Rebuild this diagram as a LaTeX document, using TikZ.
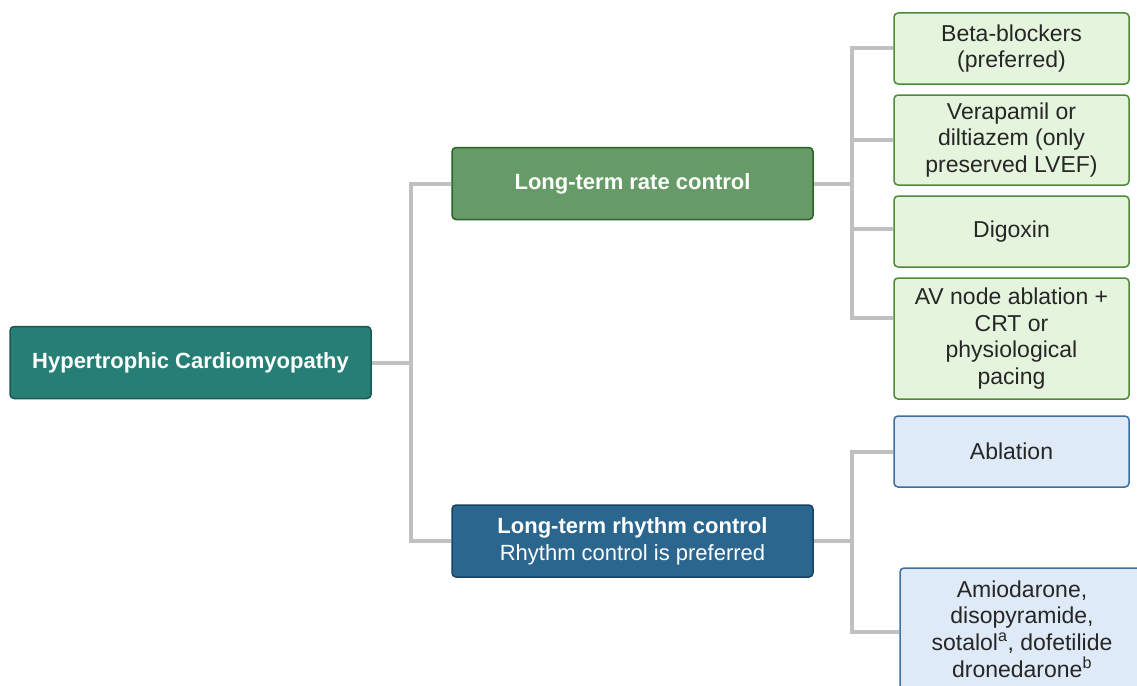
\documentclass[tikz,border=0pt]{standalone}
\usepackage{fontspec}
\setmainfont{Liberation Sans}
\usetikzlibrary{positioning}

\definecolor{rootfill}{RGB}{38,127,116}
\definecolor{rootdraw}{RGB}{27,88,80}
\definecolor{ratefill}{RGB}{102,154,102}
\definecolor{ratedraw}{RGB}{42,98,42}
\definecolor{rhythmfill}{RGB}{43,102,143}
\definecolor{rhythmdraw}{RGB}{24,68,98}
\definecolor{greenleaf}{RGB}{228,244,221}
\definecolor{greenleafdraw}{RGB}{78,138,58}
\definecolor{blueleaf}{RGB}{222,234,247}
\definecolor{blueleafdraw}{RGB}{62,110,155}
\definecolor{linkgray}{RGB}{192,192,192}

\tikzset{
  headbox/.style={rounded corners=4pt, line width=1.5pt, text=white, align=center,
    font=\fontsize{22}{27}\selectfont, minimum width=361, minimum height=72, inner sep=2pt},
  leafbox/.style={rounded corners=4pt, line width=1.5pt, text=black!85, align=center,
    font=\fontsize{23}{26.7}\selectfont, minimum width=235, inner sep=2pt},
  link/.style={draw=linkgray, line width=4pt},
}

\begin{document}
\begin{tikzpicture}[x=1pt,y=1pt,yscale=-1,xscale=1]
\clip (0,0) rectangle (1137,685);

%Root
\node [headbox, fill=rootfill, draw=rootdraw] (hcm) at (190.5,362.5) {\bfseries Hypertrophic Cardiomyopathy};
%Rate and rhythm
\node [headbox, fill=ratefill, draw=ratedraw] (rate) at (632.5,183.5) {\bfseries Long-term rate control};
\node [headbox, fill=rhythmfill, draw=rhythmdraw] (rhythm) at (632.5,541) {\textbf{Long-term rhythm control}\\Rhythm control is preferred};

%Rate control options
\node [leafbox, fill=greenleaf, draw=greenleafdraw, minimum height=71] (beta) at (1011.5,48.5) {Beta-blockers\\(preferred)};
\node [leafbox, fill=greenleaf, draw=greenleafdraw, minimum height=90] (verapamil) at (1011.5,140) {Verapamil or\\diltiazem (only\\preserved LVEF)};
\node [leafbox, fill=greenleaf, draw=greenleafdraw, minimum height=71] (digoxin) at (1011.5,231.5) {Digoxin};
\node [leafbox, fill=greenleaf, draw=greenleafdraw, minimum height=121] (avnode) at (1011.5,338.5) {AV node ablation +\\CRT or\\physiological\\pacing};

%Rhythm control options
\node [leafbox, fill=blueleaf, draw=blueleafdraw, minimum height=71] (ablation) at (1011.5,451.5) {Ablation};
\node [leafbox, fill=blueleaf, draw=blueleafdraw, minimum width=244, minimum height=122] (drugs) at (1022,629) {Amiodarone,\\disopyramide,\\sotalol\textsuperscript{a}, dofetilide\\dronedarone\textsuperscript{b}};

%Junctions
\coordinate (hcmjoin) at (411,362.5);
\coordinate (ratejoin) at (852,183.5);
\coordinate (rhythmjoin) at (852,541);

%Links
\draw [link] (hcm) -- (hcmjoin);
\draw [link] (hcmjoin) |- (rate);
\draw [link] (hcmjoin) |- (rhythm);
\draw [link] (rate) -- (ratejoin);
\draw [link] (ratejoin) |- (beta);
\draw [link] (ratejoin) |- (verapamil);
\draw [link] (ratejoin) |- ([yshift=-3pt]digoxin.west);
\draw [link] (ratejoin) |- ([yshift=-21pt]avnode.west);
\draw [link] (rhythm) -- (rhythmjoin);
\draw [link] (rhythmjoin) |- (ablation);
\draw [link] (rhythmjoin) |- ([yshift=3pt]drugs.west);

\end{tikzpicture}
\end{document}
